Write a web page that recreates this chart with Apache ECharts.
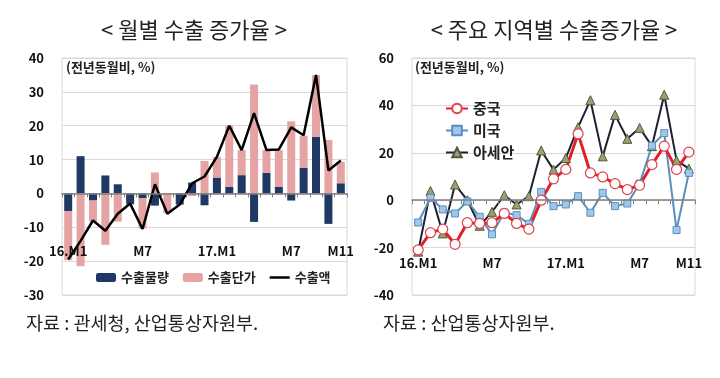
<!DOCTYPE html>
<html><head><meta charset="utf-8">
<script src="https://cdn.jsdelivr.net/npm/echarts@6/dist/echarts.min.js"></script>
<style>html,body{margin:0;padding:0;background:#fff}#c{width:720px;height:378px}</style>
</head><body><div id="c"></div>
<script>
const categories = ['16.M1','M2','M3','M4','M5','M6','M7','M8','M9','M10','M11','M12','17.M1','M2','M3','M4','M5','M6','M7','M8','M9','M10','M11'];
const shownLabels = [0, 6, 12, 18, 22];
const leftTicks = { min: -30, max: 40, interval: 10 };
const rightTicks = { min: -40, max: 60, interval: 20 };
// 월별 수출 증가율
const volume = [-5.2, 11, -2.1, 5.3, 2.7, -3.1, -1.4, -3.6, 0, -3.3, 3.2, -3.5, 4.7, 1.9, 5.4, -8.4, 6.1, 1.9, -2.1, 7.6, 16.7, -9, 3];
const price = [-14.5, -21.5, -6.2, -15.2, -8.3, -0.3, -9, 6.2, -5.8, 0, -0.8, 9.6, 6.1, 18.1, 7.4, 32.2, 6.7, 10.9, 21.3, 9.4, 18.2, 15.8, 6.3];
const exportsTotal = [-19.5, -14, -8, -11, -6, -3, -10.5, 2.7, -6, -3.3, 3, 5, 10.8, 20, 12.8, 23.7, 12.8, 13, 19.5, 17.2, 35, 6.8, 9.7];
// 주요 지역별 수출증가율
const china = [-21, -13.7, -12.2, -18.6, -9.5, -9.8, -9.5, -5.6, -9.8, -12.2, 0, 9, 13, 28, 11.5, 9.8, 7, 4.5, 6.3, 15, 22.8, 13, 20.3];
const usa = [-9.4, 1, -3.9, -5.6, -0.5, -7, -14.4, -5.2, -6.3, -10, 3.5, -2.5, -1.8, 1.7, -5.3, 3.1, -2.5, -1.4, 7, 23, 28.3, -12.6, 11.5];
const asean = [-21.7, 3.9, -14, 6.6, 0, -10.8, -4.9, 2.1, -1.8, 1.7, 21, 12.9, 17.8, 30.8, 42.2, 18.5, 36, 25.9, 30.5, 22.8, 44.5, 16.8, 13.3];

const FONT = '"Noto Sans CJK KR", "Noto Sans", sans-serif';
const chart = echarts.init(document.getElementById('c'), null, { renderer: 'canvas' });

function xAxisCfg(gridIndex, margin) {
  return {
    type: 'category', gridIndex, data: categories, boundaryGap: true, z: 10,
    axisLine: { onZero: true, lineStyle: { color: '#7f7f7f', width: 1.5 } },
    axisTick: { show: true, interval: 0, inside: false, length: 4, lineStyle: { color: '#7f7f7f' } },
    axisLabel: {
      interval: (i) => shownLabels.includes(i), margin,
      fontFamily: FONT, fontSize: 13, fontWeight: 'bold', color: '#111'
    },
    splitLine: { show: false }
  };
}
function yAxisCfg(gridIndex, t) {
  return {
    type: 'value', gridIndex, min: t.min, max: t.max, interval: t.interval,
    axisLine: { show: false }, axisTick: { show: false },
    axisLabel: { margin: 18, fontFamily: FONT, fontSize: 13, fontWeight: 'bold', color: '#111' },
    splitLine: { lineStyle: { color: '#d9d9d9', width: 1 } }
  };
}

chart.setOption({
  animation: false,
  textStyle: { fontFamily: FONT },
  title: [
    { text: '< 월별 수출 증가율 >', left: 189, top: 14, textAlign: 'center',
      textStyle: { fontFamily: FONT, fontSize: 22, fontWeight: 'normal', color: '#222' } },
    { text: '< 주요 지역별 수출증가율 >', left: 549, top: 14, textAlign: 'center',
      textStyle: { fontFamily: FONT, fontSize: 22, fontWeight: 'normal', color: '#222' } },
    { text: '자료 : 관세청, 산업통상자원부.', left: 21, top: 309,
      textStyle: { fontFamily: FONT, fontSize: 18.5, fontWeight: 'normal', color: '#222' } },
    { text: '자료 : 산업통상자원부.', left: 378, top: 309,
      textStyle: { fontFamily: FONT, fontSize: 18.5, fontWeight: 'normal', color: '#222' } }
  ],
  grid: [
    { left: 62, top: 58, width: 285, height: 237, show: true, borderColor: '#d9d9d9', borderWidth: 1 },
    { left: 412, top: 58, width: 283, height: 237, show: true, borderColor: '#d9d9d9', borderWidth: 1 }
  ],
  xAxis: [xAxisCfg(0, -50), xAxisCfg(1, -38)],
  yAxis: [yAxisCfg(0, leftTicks), yAxisCfg(1, rightTicks)],
  legend: [
    { data: ['수출물량', '수출단가', { name: '수출액', icon: 'path://M0,0 L20,0 L20,2.5 L0,2.5 Z' }],
      left: 91, top: 266, itemWidth: 20, itemHeight: 9, itemGap: 14,
      textStyle: { fontFamily: FONT, fontSize: 13, fontWeight: 'bold', color: '#222' } },
    { data: ['중국', '미국', '아세안'], orient: 'vertical', left: 440, top: 96, itemWidth: 22, itemHeight: 12, itemGap: 7,
      textStyle: { fontFamily: FONT, fontSize: 15, fontWeight: 'bold', color: '#222' } }
  ],
  graphic: [
    { type: 'text', left: 66, top: 61, style: { text: '(전년동월비, %)', font: 'bold 13px ' + FONT, fill: '#222' } },
    { type: 'text', left: 415, top: 61, style: { text: '(전년동월비, %)', font: 'bold 13px ' + FONT, fill: '#222' } }
  ],
  series: [
    { name: '수출물량', type: 'bar', xAxisIndex: 0, yAxisIndex: 0, stack: 'ex', data: volume,
      barWidth: 8, itemStyle: { color: '#1f3864' } },
    { name: '수출단가', type: 'bar', xAxisIndex: 0, yAxisIndex: 0, stack: 'ex', data: price,
      barWidth: 8, itemStyle: { color: '#e6a3a3' } },
    { name: '수출액', type: 'line', xAxisIndex: 0, yAxisIndex: 0, data: exportsTotal,
      symbol: 'none', lineStyle: { color: '#000', width: 2.5 }, itemStyle: { color: '#000' } },
    { name: '아세안', type: 'line', xAxisIndex: 1, yAxisIndex: 1, data: asean, showAllSymbol: true,
      symbol: 'triangle', symbolSize: 9, lineStyle: { color: '#1c2230', width: 2 },
      itemStyle: { color: '#9c9f70', borderColor: '#55573a', borderWidth: 1 } },
    { name: '미국', type: 'line', xAxisIndex: 1, yAxisIndex: 1, data: usa, showAllSymbol: true,
      symbol: 'rect', symbolSize: 7, lineStyle: { color: '#5b8fc0', width: 2 },
      itemStyle: { color: '#9fc8e8', borderColor: '#5b8fc0', borderWidth: 1 } },
    { name: '중국', type: 'line', xAxisIndex: 1, yAxisIndex: 1, data: china, showAllSymbol: true,
      symbol: 'circle', symbolSize: 10, lineStyle: { color: '#e0202a', width: 3 },
      itemStyle: { color: '#ffffff', borderColor: '#e0404a', borderWidth: 1.2 } }
  ]
});
</script></body></html>
